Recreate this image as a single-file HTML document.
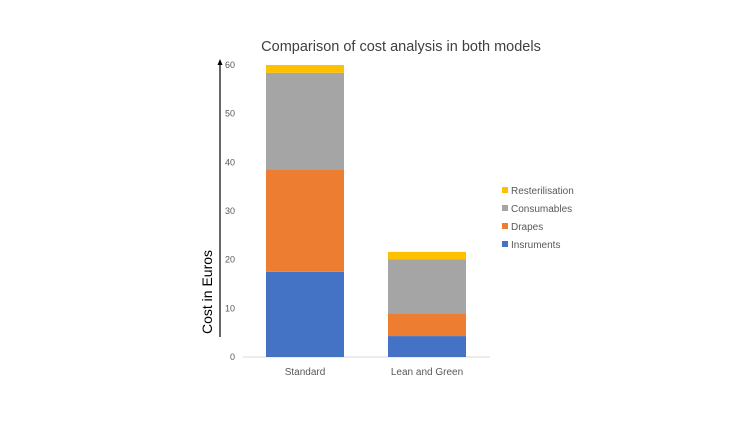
<!DOCTYPE html>
<html><head><meta charset="utf-8"><style>
body{margin:0;background:#fff;font-family:"Liberation Sans",sans-serif}
svg text{font-family:"Liberation Sans",sans-serif}
</style></head><body>
<svg width="750" height="421">
<text x="401" y="51" text-anchor="middle" font-size="14.5" fill="#404040">Comparison of cost analysis in both models</text>
<line x1="243" y1="357" x2="490" y2="357" stroke="#d9d9d9"/>
<line x1="220" y1="337" x2="220" y2="64" stroke="#000" stroke-width="1.2"/>
<polygon points="220,59 217.5,65 222.5,65" fill="#000"/>
<text transform="translate(212,292) rotate(-90)" text-anchor="middle" font-size="14" fill="#000">Cost in Euros</text>
<g id="ticks"></g><g id="bars"></g><g id="legend"></g>
</svg>
<script>
const categories=["Standard","Lean and Green"];
const seriesNames=["Insruments","Drapes","Consumables","Resterilisation"];
const instruments=[17.5,4.3];
const drapes=[21.1,4.7];
const consumables=[19.8,11.1];
const resterilisation=[1.6,1.5];
const tickLabels=[0,10,20,30,40,50,60];
const colors=["#4472c4","#ed7d31","#a5a5a5","#ffc000"];
const series=[instruments,drapes,consumables,resterilisation];
const ns="http://www.w3.org/2000/svg";
const y=v=>357-v*(292/60);
const barX=[266,388], barW=78;
const tg=document.getElementById('ticks');
tickLabels.forEach(t=>{const e=document.createElementNS(ns,'text');


e.setAttribute('x',235);e.setAttribute('y',y(t)+3);e.setAttribute('text-anchor','end');e.setAttribute('font-size','9');e.setAttribute('fill','#595959');e.textContent=t;tg.appendChild(e);});
const bg=document.getElementById('bars');
categories.forEach((c,i)=>{let base=0;
series.forEach((s,k)=>{const r=document.createElementNS(ns,'rect');


r.setAttribute('x',barX[i]);r.setAttribute('width',barW);r.setAttribute('y',y(base+s[i]));r.setAttribute('height',y(base)-y(base+s[i]));r.setAttribute('fill',colors[k]);bg.appendChild(r);base+=s[i];});
const t=document.createElementNS(ns,'text');


t.setAttribute('x',barX[i]+barW/2);t.setAttribute('y',375);t.setAttribute('text-anchor','middle');t.setAttribute('font-size','10');t.setAttribute('fill','#595959');t.textContent=c;bg.appendChild(t);});
const lg=document.getElementById('legend');
[3,2,1,0].forEach((k,j)=>{const yy=191+j*18;
const r=document.createElementNS(ns,'rect');


r.setAttribute('x',502);r.setAttribute('y',yy-4);r.setAttribute('width',6);r.setAttribute('height',6);r.setAttribute('fill',colors[k]);lg.appendChild(r);
const t=document.createElementNS(ns,'text');


t.setAttribute('x',511);t.setAttribute('y',yy+3);t.setAttribute('font-size','10');t.setAttribute('fill','#595959');t.textContent=seriesNames[k];lg.appendChild(t);});
</script>
</body></html>
